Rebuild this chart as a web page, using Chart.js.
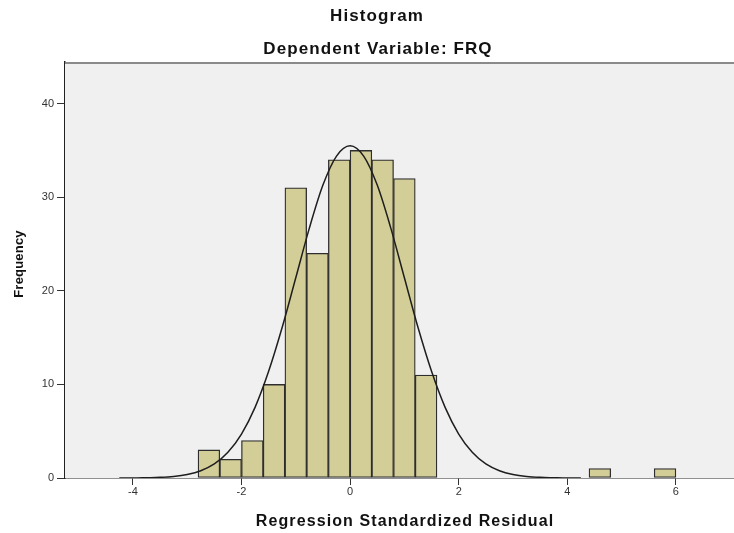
<!DOCTYPE html>
<html>
<head>
<meta charset="utf-8">
<script src="https://cdn.jsdelivr.net/npm/chart.js@4"></script>
<style>
  html, body { margin: 0; padding: 0; background: #ffffff; }
  #wrap { width: 734px; height: 533px; }
</style>
</head>
<body>
<div id="wrap"><canvas id="c" width="734" height="533"></canvas></div>
<script>
// ---- data ----
const chartTitle = "Histogram";
const chartSubtitle = "Dependent Variable: FRQ";
const xAxisTitle = "Regression Standardized Residual";
const yAxisTitle = "Frequency";

const xTickValues = [-4, -2, 0, 2, 4, 6];
const yTickValues = [0, 10, 20, 30, 40];

// histogram bins (width 0.4), given by their centres
const binCenters = [-2.6, -2.2, -1.8, -1.4, -1.0, -0.6, -0.2, 0.2, 0.6, 1.0, 1.4, 4.6, 5.8];
const frequencies = [3, 2, 4, 10, 31, 24, 34, 35, 34, 32, 11, 1, 1];

// normal curve
const curveX = [-4.25, -4, -3.75, -3.5, -3.25, -3, -2.75, -2.5, -2.25, -2, -1.75, -1.5, -1.25, -1, -0.75, -0.5, -0.25,
                0, 0.25, 0.5, 0.75, 1, 1.25, 1.5, 1.75, 2, 2.25, 2.5, 2.75, 3, 3.25, 3.5, 3.75, 4, 4.25];
const curveY = [0, 0, 0.03, 0.07, 0.17, 0.38, 0.78, 1.5, 2.75, 4.7, 7.55, 11.4, 16.1, 21.4, 26.7, 31.3, 34.4,
                35.5, 34.4, 31.3, 26.7, 21.4, 16.1, 11.4, 7.55, 4.7, 2.75, 1.5, 0.78, 0.38, 0.17, 0.07, 0.03, 0, 0];

const xRange = [-5.25, 7.07];
const yRange = [0, 44.45];

// ---- plugins ----
const plotFrame = {
  id: 'plotFrame',
  beforeDatasetsDraw(chart) {
    const {ctx, chartArea: a} = chart;
    ctx.save();
    ctx.fillStyle = '#F0F0F0';
    ctx.fillRect(a.left, a.top, a.right - a.left, a.bottom - a.top);
    ctx.restore();
  },
  afterDraw(chart) {
    const {ctx, chartArea: a} = chart;
    ctx.save();
    // top frame line
    ctx.strokeStyle = '#8a8a8a';
    ctx.lineWidth = 2;
    ctx.beginPath();
    ctx.moveTo(a.left, a.top + 1);
    ctx.lineTo(a.right, a.top + 1);
    ctx.stroke();
    ctx.fillStyle = '#111';
    ctx.textBaseline = 'alphabetic';
    ctx.textAlign = 'center';
    // titles
    ctx.font = 'bold 17px "Liberation Sans", Arial, sans-serif';
    ctx.letterSpacing = '1.1px';
    ctx.fillText(chartTitle, 377, 21);
    ctx.fillText(chartSubtitle, 378, 54);
    ctx.font = 'bold 16px "Liberation Sans", Arial, sans-serif';
    ctx.letterSpacing = '1.1px';
    ctx.fillText(xAxisTitle, 405, 526);
    ctx.font = 'bold 13px "Liberation Sans", Arial, sans-serif';
    ctx.letterSpacing = '0.2px';
    ctx.translate(23, 264);
    ctx.rotate(-Math.PI / 2);
    ctx.fillText(yAxisTitle, 0, 0);
    ctx.restore();
  }
};

const barData = binCenters.map((x, i) => ({x: x, y: frequencies[i]}));
const curveData = curveX.map((x, i) => ({x: x, y: curveY[i]}));

const tickFont = {family: '"Liberation Sans", Arial, sans-serif', size: 11};

new Chart(document.getElementById('c'), {
  type: 'bar',
  data: {
    datasets: [
      {
        type: 'line',
        data: curveData,
        borderColor: '#1e1e1e',
        borderWidth: 1.5,
        pointRadius: 0,
        fill: false,
        cubicInterpolationMode: 'monotone',
        order: 0
      },
      {
        type: 'bar',
        data: barData,
        backgroundColor: '#D3CE97',
        borderColor: '#2e2e2e',
        borderWidth: 1.3,
        borderSkipped: false,
        barPercentage: 1,
        categoryPercentage: 1,
        grouped: false,
        order: 1
      }
    ]
  },
  options: {
    responsive: false,
    animation: false,
    devicePixelRatio: 1,
    layout: {padding: {top: 62, left: 0, right: 0, bottom: 0}},
    plugins: {
      legend: {display: false},
      title: {display: false},
      tooltip: {enabled: false}
    },
    scales: {
      x: {
        type: 'linear',
        min: xRange[0],
        max: xRange[1],
        offset: false,
        afterBuildTicks(scale) { scale.ticks = xTickValues.map(v => ({value: v})); },
        afterFit(scale) { scale.height = 55; },
        grid: {display: true, drawOnChartArea: false, drawTicks: true, tickLength: 7, tickColor: '#333', offset: false},
        border: {display: true, color: '#222', width: 1.5},
        ticks: {color: '#333', font: tickFont, padding: 0, maxRotation: 0, autoSkip: false},
        title: {display: false}
      },
      y: {
        type: 'linear',
        min: yRange[0],
        max: yRange[1],
        afterBuildTicks(scale) { scale.ticks = yTickValues.map(v => ({value: v})); },
        afterFit(scale) { scale.width = 65; },
        grid: {display: true, drawOnChartArea: false, drawTicks: true, tickLength: 8, tickColor: '#333'},
        border: {display: true, color: '#222', width: 1.5},
        ticks: {color: '#333', font: tickFont, padding: 3, autoSkip: false},
        title: {display: false}
      }
    }
  },
  plugins: [plotFrame]
});
</script>
</body>
</html>
